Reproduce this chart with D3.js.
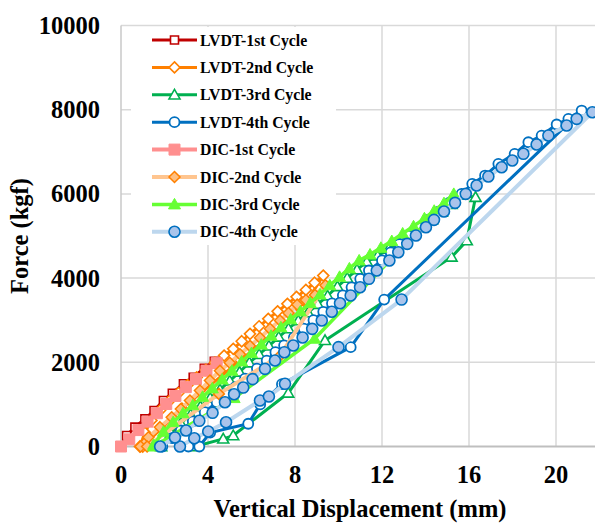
<!DOCTYPE html>
<html><head><meta charset="utf-8">
<script src="https://cdn.jsdelivr.net/npm/d3@7/dist/d3.min.js"></script>
<style>
html,body{margin:0;padding:0;background:#fff;}
svg{display:block;}
text{font-family:"Liberation Serif","Times New Roman",serif;font-weight:bold;fill:#000;}
</style></head>
<body>
<svg id="chart" width="595" height="524"></svg>
<script>
// ---- data (Vertical displacement mm, Force kgf) ----
const xTicks = [0, 4, 8, 12, 16, 20];
const yTicks = [0, 2000, 4000, 6000, 8000, 10000];

const lvdt1X = [0, 0.26, 0.64, 1.10, 1.52, 1.95, 2.36, 2.87, 3.32, 3.83, 4.29];
const lvdt1F = [0, 260, 460, 657, 855, 1092, 1266, 1489, 1646, 1860, 2026];

const lvdt2X = [0.87, 1.1, 1.4, 1.8, 2.22, 2.64, 3.06, 3.48, 3.9, 4.32, 4.74, 5.16, 5.55, 5.93, 6.35, 6.77, 7.2, 7.65, 8.07, 8.5, 8.9, 9.3, 8.3, 5.5, 2.8, 1.0];
const lvdt2F = [0, 330, 620, 860, 1080, 1270, 1460, 1640, 1820, 1990, 2160, 2320, 2500, 2676, 2855, 3033, 3210, 3389, 3555, 3720, 3890, 4060, 3250, 2050, 900, 0];

const lvdt3X = [3.4, 4.7, 5.16, 7.69, 9.38, 15.2, 15.9, 16.3, 15.65, 15.2, 14.75, 14.3, 13.8, 13.3, 12.8, 12.3, 11.8, 11.3, 10.85, 10.4, 9.95, 9.5, 9.05, 8.6, 8.15, 7.7, 7.25, 6.8, 6.35, 5.9, 5.45, 5.0, 4.55, 4.1, 3.65, 3.2, 2.75, 2.3, 1.85];
const lvdt3F = [0, 180, 260, 1270, 2520, 4500, 4890, 5920, 5970, 5750, 5570, 5390, 5200, 5030, 4850, 4690, 4530, 4390, 4200, 4000, 3800, 3580, 3380, 3180, 2990, 2800, 2600, 2390, 2190, 1990, 1770, 1560, 1350, 1150, 950, 760, 550, 320, 0];

const lvdt4X = [3.1, 3.6, 4.1, 5.85, 6.4, 7.4, 10.56, 12.1, 21.18, 20.57, 20.03, 19.34, 18.73, 18.1, 17.35, 16.74, 16.15, 15.66, 15.1, 14.6, 14.1, 13.7, 13.2, 12.8, 12.4, 12.0, 11.4, 11.0, 10.6, 10.2, 9.7, 9.3, 8.85, 8.4, 7.95, 7.5, 7.1, 6.7, 6.25, 5.7, 5.25, 4.8, 4.4, 3.85, 3.3, 2.75, 2.35, 1.9];
const lvdt4F = [0, 0, 330, 540, 1000, 1480, 2360, 3490, 7980, 7783, 7648, 7386, 7227, 6952, 6714, 6436, 6239, 6001, 5790, 5580, 5380, 5200, 5010, 4810, 4610, 4420, 4180, 3980, 3780, 3590, 3400, 3200, 3000, 2800, 2590, 2400, 2240, 2040, 1850, 1610, 1410, 1250, 1050, 815, 600, 380, 200, 0];

const dic1X = [0, 0.38, 0.8, 1.22, 1.65, 2.08, 2.5, 2.98, 3.45, 3.93, 4.4];
const dic1F = [0, 170, 390, 590, 790, 1010, 1200, 1410, 1600, 1800, 1980];

const dic2X = [0.9, 1.26, 1.79, 2.33, 2.75, 3.17, 3.63, 4.09, 4.55, 5.0, 5.47, 5.93, 6.39, 6.85, 7.31, 7.7, 8.1, 8.5, 8.92, 9.4, 7.3, 4.5, 1.2];
const dic2F = [0, 221, 459, 696, 890, 1092, 1330, 1568, 1800, 1990, 2190, 2390, 2582, 2795, 2993, 3170, 3370, 3480, 3600, 3830, 2150, 1250, 0];

const dic3X = [1.5, 1.95, 2.4, 2.85, 3.3, 3.75, 4.2, 4.65, 5.1, 5.55, 6.0, 6.45, 6.9, 7.35, 7.8, 8.25, 8.7, 9.15, 9.6, 10.05, 10.5, 10.95, 11.45, 11.95, 12.45, 12.95, 13.45, 13.95, 14.4, 14.85, 15.3, 8.9, 5.2, 1.5];
const dic3F = [40, 350, 580, 790, 980, 1180, 1380, 1590, 1800, 2020, 2220, 2420, 2630, 2830, 3020, 3210, 3410, 3610, 3830, 4030, 4230, 4420, 4560, 4720, 4880, 5060, 5230, 5420, 5600, 5780, 6000, 2560, 1150, 0];

const dic4X = [2.71, 3.37, 4.01, 4.83, 6.39, 6.80, 7.54, 10.0, 12.9, 21.67, 20.95, 20.49, 19.65, 19.11, 18.5, 17.99, 17.5, 16.89, 16.35, 15.85, 15.36, 14.85, 14.39, 14.02, 13.56, 13.16, 12.75, 12.34, 11.76, 11.4, 10.99, 10.56, 10.07, 9.69, 9.23, 8.79, 8.35, 7.92, 7.51, 7.08, 6.62, 6.05, 5.62, 5.2, 4.78, 4.21, 3.6, 2.99, 2.48, 1.8];
const dic4F = [0, 197, 356, 577, 1092, 1187, 1489, 2360, 3490, 7940, 7783, 7624, 7386, 7173, 6952, 6793, 6634, 6413, 6199, 6001, 5788, 5581, 5384, 5208, 5011, 4814, 4615, 4418, 4180, 3983, 3783, 3586, 3403, 3200, 2993, 2795, 2590, 2399, 2240, 2043, 1845, 1600, 1400, 1240, 1052, 800, 610, 380, 215, 0];

const seriesNames = ["LVDT-1st Cycle","LVDT-2nd Cycle","LVDT-3rd Cycle","LVDT-4th Cycle","DIC-1st Cycle","DIC-2nd Cycle","DIC-3rd Cycle","DIC-4th Cycle"];

// ---- styles ----
const styles = [
  {xs: lvdt1X, fs: lvdt1F, line:"#c00000", lw:3, shape:"square",   size:4,   fill:"#ffffff", stroke:"#c00000", sw:1.6},
  {xs: lvdt2X, fs: lvdt2F, line:"#ff8000", lw:3, shape:"diamond",  size:5.5, fill:"#ffffff", stroke:"#ff8000", sw:1.6},
  {xs: lvdt3X, fs: lvdt3F, line:"#00b050", lw:3, shape:"triangle", size:5.5, fill:"#ffffff", stroke:"#00b050", sw:1.6},
  {xs: lvdt4X, fs: lvdt4F, line:"#0070c0", lw:3, shape:"circle",   size:5,   fill:"#ffffff", stroke:"#0070c0", sw:1.8},
  {xs: dic1X,  fs: dic1F,  line:"#ff8f8f", lw:4, shape:"square",   size:5.5, fill:"#ff8f8f", stroke:"#ff8f8f", sw:1},
  {xs: dic2X,  fs: dic2F,  line:"#ffc58f", lw:4, shape:"diamond",  size:5.5, fill:"#ffbf80", stroke:"#ff8000", sw:1.5},
  {xs: dic3X,  fs: dic3F,  line:"#66ff33", lw:3.5, shape:"triangle", size:6, fill:"#66ff33", stroke:"#66ff33", sw:1},
  {xs: dic4X,  fs: dic4F,  line:"#bdd7ee", lw:4, shape:"circle",   size:5.5, fill:"#a9c4eb", stroke:"#0070c0", sw:1.6}
];

const svg = d3.select("#chart");
const x = d3.scaleLinear().domain([0, 22]).range([121, 599.5]);
const y = d3.scaleLinear().domain([0, 10000]).range([446.5, 25.5]);

// grid
const grid = svg.append("g");
grid.selectAll(".vg").data(xTicks.filter(d => d > 0)).enter().append("line")
  .attr("x1", d => x(d)).attr("x2", d => x(d)).attr("y1", y(10000)).attr("y2", y(0))
  .attr("stroke", "#d9d9d9").attr("stroke-width", 1.5);
grid.selectAll(".hg").data(yTicks.filter(d => d > 0)).enter().append("line")
  .attr("x1", x(0)).attr("x2", 595).attr("y1", d => y(d)).attr("y2", d => y(d))
  .attr("stroke", "#d9d9d9").attr("stroke-width", 1.5);
// axis lines
svg.append("line").attr("x1", x(0)).attr("x2", x(0)).attr("y1", y(10000)).attr("y2", y(0))
  .attr("stroke", "#c8c8c8").attr("stroke-width", 1.5);
svg.append("line").attr("x1", x(0)).attr("x2", 595).attr("y1", y(0)).attr("y2", y(0))
  .attr("stroke", "#bfbfbf").attr("stroke-width", 2);

// legend background (covers grid)
svg.append("rect").attr("x", 131).attr("y", 27).attr("width", 205).attr("height", 218).attr("fill", "#fff");

function markerPath(shape, s) {
  if (shape === "square") return `M${-s},${-s}h${2*s}v${2*s}h${-2*s}Z`;
  if (shape === "diamond") return `M0,${-s}L${s},0L0,${s}L${-s},0Z`;
  if (shape === "triangle") return `M0,${-s}L${s},${s*0.75}L${-s},${s*0.75}Z`;
  return null;
}
function drawMarker(g, st, cx, cy) {
  if (st.shape === "circle") {
    g.append("circle").attr("cx", cx).attr("cy", cy).attr("r", st.size)
      .attr("fill", st.fill).attr("stroke", st.stroke).attr("stroke-width", st.sw);
  } else {
    g.append("path").attr("d", markerPath(st.shape, st.size)).attr("transform", `translate(${cx},${cy})`)
      .attr("fill", st.fill).attr("stroke", st.stroke).attr("stroke-width", st.sw);
  }
}

const line = d3.line().x(d => x(d[0])).y(d => y(d[1]));
styles.forEach(st => {
  const pts = st.xs.map((v, i) => [v, st.fs[i]]);
  const g = svg.append("g");
  g.append("path").datum(pts).attr("d", line).attr("fill", "none")
    .attr("stroke", st.line).attr("stroke-width", st.lw).attr("stroke-linejoin", "round");
  pts.forEach(p => drawMarker(g, st, x(p[0]), y(p[1])));
});

// legend
const lg = svg.append("g");
seriesNames.forEach((name, i) => {
  const st = styles[i];
  const cy = 40 + i * 27.4;
  lg.append("line").attr("x1", 152).attr("x2", 197).attr("y1", cy).attr("y2", cy)
    .attr("stroke", st.line).attr("stroke-width", st.lw);
  drawMarker(lg, st, 174.5, cy);
  lg.append("text").attr("x", 200).attr("y", cy).attr("dy", "0.35em")
    .attr("font-size", 15.8).text(name);
});

// tick labels
svg.selectAll(".yt").data(yTicks).enter().append("text")
  .attr("x", 100).attr("y", d => y(d)).attr("dy", "0.35em").attr("text-anchor", "end")
  .attr("font-size", 24.5).text(d => d);
svg.selectAll(".xt").data(xTicks).enter().append("text")
  .attr("x", d => x(d)).attr("y", 483).attr("text-anchor", "middle")
  .attr("font-size", 24.5).text(d => d);

// axis titles
svg.append("text").attr("x", 360).attr("y", 517).attr("text-anchor", "middle")
  .attr("font-size", 24.5).text("Vertical Displacement (mm)");
svg.append("text").attr("transform", "translate(28,236) rotate(-90)").attr("text-anchor", "middle")
  .attr("font-size", 24.5).text("Force (kgf)");
</script>
</body></html>
